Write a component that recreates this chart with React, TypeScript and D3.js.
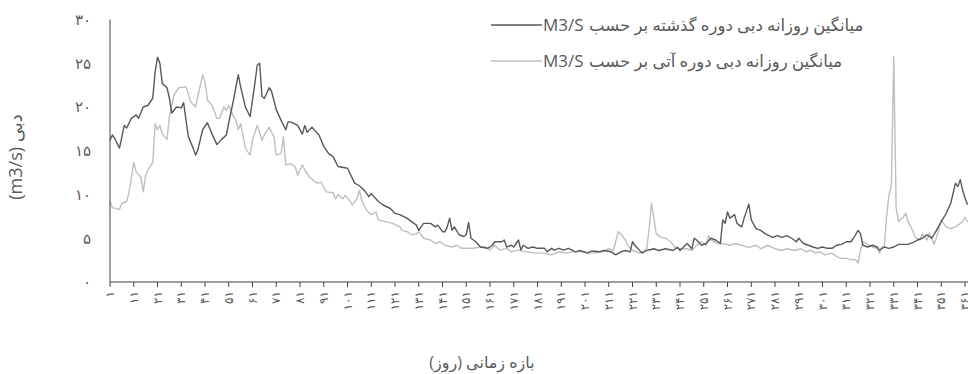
import React from 'react';
import * as d3 from 'd3';

// daily mean discharge (m3/s) as [day, value]
const pastFlow: [number, number][] = [
  [1, 16.2], [2, 16.8], [3, 16.4], [5, 15.3], [7, 17.9], [8, 17.6], [10, 18.7], [12, 19.1], [13, 18.7], [15, 20.0],
  [17, 20.2], [18, 20.6], [19, 21.0], [20, 24.0], [21, 25.7], [22, 25.0], [23, 22.7], [25, 22.2], [26, 21.0], [27, 19.3],
  [29, 20.0], [31, 19.9], [32, 20.5], [33, 18.5], [34, 16.6], [36, 15.3], [37, 14.5], [38, 15.1], [40, 17.4], [42, 18.2],
  [44, 16.9], [46, 15.7], [48, 16.3], [50, 16.8], [51, 18.2], [53, 20.8], [55, 23.7], [56, 22.3], [58, 20.0], [60, 18.9],
  [62, 22.7], [63, 24.8], [64, 25.0], [65, 21.2], [66, 21.0], [68, 22.2], [69, 21.8], [71, 19.7], [73, 18.5], [75, 17.4],
  [76, 18.3], [77, 18.3], [80, 17.9], [82, 16.9], [83, 17.9], [84, 17.1], [86, 17.7], [89, 16.8], [91, 15.5], [93, 14.7],
  [95, 14.3], [97, 13.2], [101, 13.0], [104, 11.3], [106, 11.0], [108, 10.5], [110, 9.75], [111, 10.1], [114, 9.2], [116, 8.8],
  [119, 8.4], [121, 7.85], [123, 7.7], [126, 7.3], [128, 6.9], [130, 6.5], [131, 5.9], [133, 6.7], [136, 6.7], [138, 6.3],
  [139, 6.5], [141, 5.75], [142, 5.75], [143, 6.3], [144, 7.3], [145, 5.9], [146, 6.3], [148, 5.4], [150, 5.2], [151, 5.4],
  [152, 6.8], [153, 5.0], [155, 4.6], [157, 4.0], [160, 3.85], [162, 4.2], [163, 4.6], [166, 4.6], [167, 4.8], [168, 4.0],
  [170, 4.2], [171, 4.0], [173, 4.8], [174, 3.65], [175, 4.2], [177, 3.85], [179, 4.0], [181, 3.85], [184, 3.85], [185, 3.45],
  [187, 3.85], [188, 3.65], [190, 3.85], [192, 3.65], [194, 3.85], [197, 3.45], [199, 3.6], [202, 3.3], [204, 3.55], [207, 3.45],
  [209, 3.6], [212, 3.45], [214, 3.1], [216, 3.45], [218, 3.6], [220, 3.45], [221, 4.6], [222, 4.2], [225, 3.3], [227, 3.6],
  [230, 3.8], [232, 3.6], [235, 3.8], [238, 3.6], [240, 3.95], [241, 3.6], [244, 4.4], [246, 3.8], [247, 5.0], [248, 4.8],
  [250, 4.2], [252, 4.4], [254, 5.0], [256, 4.8], [258, 4.4], [259, 7.1], [260, 6.7], [261, 8.0], [262, 7.3], [264, 7.7],
  [265, 6.7], [267, 6.3], [268, 7.3], [270, 8.9], [271, 7.1], [273, 6.1], [275, 5.9], [277, 5.5], [280, 5.1], [282, 5.3],
  [284, 5.1], [286, 5.3], [288, 5.0], [290, 4.6], [291, 5.0], [293, 4.4], [295, 4.2], [297, 4.0], [299, 3.85], [301, 4.0],
  [303, 3.85], [305, 3.85], [307, 4.2], [309, 4.3], [311, 4.6], [313, 4.6], [314, 5.0], [316, 5.9], [317, 5.5], [318, 4.2],
  [320, 4.0], [322, 4.2], [324, 4.0], [325, 3.65], [327, 4.0], [329, 3.85], [331, 4.0], [333, 4.3], [335, 4.3], [337, 4.3],
  [339, 4.5], [341, 4.8], [343, 5.0], [345, 5.4], [347, 5.0], [349, 5.9], [351, 6.9], [353, 7.8], [355, 9.0], [357, 11.3],
  [358, 10.9], [359, 11.7], [360, 10.5], [361, 9.6], [362, 8.9], [365, 8.6],
];

const futureFlow: [number, number][] = [
  [1, 9.2], [2, 8.5], [5, 8.3], [6, 9.0], [8, 9.2], [9, 10.2], [11, 13.7], [12, 12.6], [14, 12.0], [15, 10.3],
  [16, 12.2], [17, 12.8], [19, 13.7], [20, 18.1], [21, 17.4], [22, 17.9], [23, 16.9], [25, 16.3], [26, 18.9], [28, 21.4],
  [30, 22.2], [33, 22.3], [35, 20.6], [37, 20.0], [38, 21.2], [40, 23.7], [41, 22.9], [42, 20.8], [44, 20.2], [46, 18.7],
  [47, 18.7], [49, 20.0], [50, 19.6], [51, 20.2], [53, 18.9], [54, 18.5], [55, 17.4], [56, 18.1], [58, 15.3], [60, 14.5],
  [61, 16.2], [63, 17.9], [65, 16.2], [66, 16.8], [68, 17.7], [70, 16.6], [71, 14.5], [73, 14.7], [74, 16.6], [75, 13.4],
  [77, 13.5], [79, 13.2], [80, 12.2], [82, 13.4], [83, 12.8], [85, 12.0], [88, 11.3], [90, 11.4], [92, 10.3], [95, 10.2],
  [96, 9.5], [97, 10.0], [99, 9.5], [100, 9.9], [102, 9.3], [103, 8.8], [105, 9.5], [106, 10.5], [107, 9.3], [109, 8.2],
  [111, 7.7], [113, 8.0], [114, 7.1], [117, 6.9], [120, 6.7], [123, 6.3], [124, 5.9], [126, 5.75], [128, 5.4], [130, 5.5],
  [131, 5.75], [133, 5.0], [136, 4.8], [138, 4.4], [140, 4.6], [142, 4.2], [145, 4.0], [147, 4.2], [149, 3.85], [151, 3.85],
  [154, 3.85], [157, 4.0], [159, 4.0], [161, 3.65], [163, 4.2], [165, 3.65], [168, 3.85], [170, 3.45], [173, 3.65], [176, 3.45],
  [180, 3.3], [183, 3.3], [187, 3.1], [190, 3.45], [193, 3.3], [197, 3.5], [200, 3.45], [204, 3.3], [208, 3.45], [211, 3.8],
  [213, 3.6], [215, 5.75], [216, 5.5], [218, 4.8], [219, 4.2], [221, 3.6], [224, 3.3], [226, 3.6], [227, 3.8], [228, 6.1],
  [229, 9.0], [230, 7.3], [231, 5.5], [233, 5.1], [235, 5.0], [237, 4.6], [239, 3.95], [241, 3.8], [244, 3.8], [246, 3.6],
  [248, 4.2], [250, 4.6], [252, 4.2], [253, 5.3], [254, 4.8], [257, 4.4], [259, 4.4], [262, 4.2], [264, 4.4], [267, 4.2],
  [270, 3.95], [273, 4.2], [275, 3.8], [278, 4.2], [281, 3.8], [284, 3.6], [286, 3.8], [289, 3.6], [292, 3.8], [294, 3.45],
  [296, 3.65], [298, 3.3], [300, 3.45], [302, 3.1], [305, 3.3], [307, 2.9], [309, 2.7], [311, 2.7], [313, 2.55], [315, 2.55],
  [316, 2.15], [317, 3.65], [318, 4.6], [320, 4.3], [322, 4.0], [324, 3.85], [325, 3.3], [326, 4.0], [327, 4.0], [328, 7.5],
  [329, 10.0], [330, 11.0], [331, 25.75], [332, 8.5], [333, 6.9], [335, 7.4], [336, 7.85], [337, 6.9], [339, 5.9], [340, 5.1],
  [342, 4.8], [343, 5.5], [345, 4.8], [346, 5.6], [348, 4.3], [349, 5.1], [351, 7.1], [353, 6.3], [355, 6.1], [357, 6.3],
  [360, 6.9], [361, 7.4], [362, 6.9], [365, 7.0],
];

const dayTicks = d3.range(1, 366, 10);
const flowTicks = [0, 5, 10, 15, 20, 25, 30];

const legendPast = 'میانگین روزانه دبی دوره  گذشته بر حسب';
const legendFuture = 'میانگین روزانه دبی دوره  آتی بر حسب';
const unitLabel = 'M3/S';
const xTitle = 'بازه زمانی (روز)';
const yTitle = '(m3/s) دبی';

const faDigits = (n: number) => String(n).replace(/\d/g, (d) => '۰۱۲۳۴۵۶۷۸۹'[+d]);

const W = 968;
const H = 374;
const textColor = '#595959';
const pastColor = '#595959';
const futureColor = '#bfbfbf';
const font = "'Open Sans', 'DejaVu Sans', sans-serif";

export default function App() {
  const x = d3.scaleLinear().domain([1, 365]).range([110, 110 + 364 * 2.375]);
  const y = d3.scaleLinear().domain([0, 30]).range([282, 19.5]);

  const line = d3.line<[number, number]>()
    .x((d) => x(d[0]))
    .y((d) => y(d[1]));

  const x0 = x(1);
  const y0 = y(0);

  return (
    <svg width={W} height={H} style={{ position: 'absolute', left: 0, top: 0, background: '#fff' }} fontFamily={font}>
      {/* y axis labels */}
      {flowTicks.map((t) => (
        <text key={t} x={91} y={y(t)} dy="0.35em" textAnchor="end" fontSize={15} fill={textColor}>
          {faDigits(t)}
        </text>
      ))}
      <text transform={`translate(16, 157) rotate(-90)`} textAnchor="middle" dy="0.35em" fontSize={18} fill={textColor}>
        {yTitle}
      </text>

      {/* lines */}
      <path d={line(futureFlow) || ''} fill="none" stroke={futureColor} strokeWidth={1.4} strokeLinejoin="round" />
      <path d={line(pastFlow) || ''} fill="none" stroke={pastColor} strokeWidth={1.4} strokeLinejoin="round" />

      {/* axes */}
      <line x1={x0} x2={x0} y1={y(30)} y2={y0} stroke="#404040" strokeWidth={1} />
      <line x1={x0} x2={W + 10} y1={y0} y2={y0} stroke="#404040" strokeWidth={1.2} />
      {dayTicks.map((d) => (
        <g key={d}>
          <line x1={x(d)} x2={x(d)} y1={y0} y2={y0 + 5} stroke="#404040" strokeWidth={1} />
          <text
            transform={`translate(${x(d)}, ${y0 + 9}) rotate(-90)`}
            textAnchor="end"
            dy="0.35em"
            fontSize={12}
            fill={textColor}
          >
            {faDigits(d)}
          </text>
        </g>
      ))}
      <text x={482} y={362} dy="0.35em" textAnchor="middle" direction="rtl" fontSize={16} fill={textColor}>
        {xTitle}
      </text>

      {/* legend */}
      {[
        { label: legendPast, color: pastColor, ly: 25 },
        { label: legendFuture, color: futureColor, ly: 61 },
      ].map((l) => (
        <g key={l.ly}>
          <line x1={491} x2={542} y1={l.ly} y2={l.ly} stroke={l.color} strokeWidth={1.4} />
          <text x={543} y={l.ly} dy="0.35em" fontSize={17} fill={textColor}>
            {unitLabel}
          </text>
          <text x={589} y={l.ly} dy="0.35em" textAnchor="start" fontSize={16.5} fill={textColor}>
            {l.label}
          </text>
        </g>
      ))}
    </svg>
  );
}
